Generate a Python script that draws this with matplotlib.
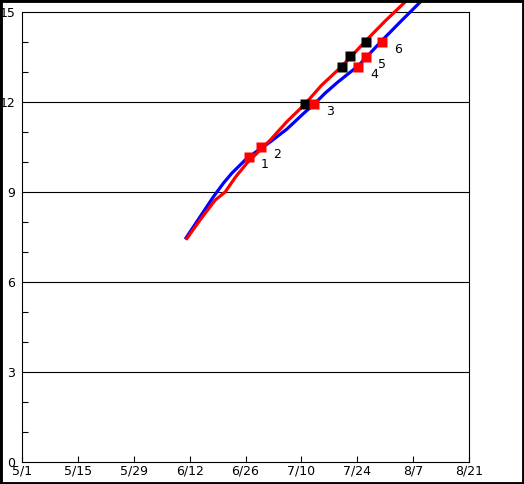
import matplotlib
matplotlib.use('Agg')
import matplotlib.pyplot as plt
from matplotlib.patches import Rectangle

# days counted from 5/1
tick_days = [0, 14, 28, 42, 56, 70, 84, 98, 112]
tick_labels = ['5/1', '5/15', '5/29', '6/12', '6/26', '7/10', '7/24', '8/7', '8/21']

blue_days = [41.1, 44.5, 47.9, 50.5, 52.6, 56.4, 62.2, 66.4, 70.4, 73.2, 76.0, 79.0, 84.2, 86.2, 90.2, 95.0, 100.3]
blue_vals = [7.47, 8.15, 8.83, 9.3, 9.63, 10.13, 10.67, 11.1, 11.6, 11.93, 12.3, 12.65, 13.2, 13.48, 14.05, 14.7, 15.4]

red_days = [41.3, 44.8, 48.4, 50.9, 53.5, 56.4, 62.2, 66.4, 70.9, 75.0, 80.2, 83.2, 86.2, 91.0, 96.5]
red_vals = [7.45, 8.1, 8.73, 9.0, 9.5, 9.97, 10.73, 11.35, 11.93, 12.55, 13.2, 13.62, 14.05, 14.7, 15.4]

red_mark_days = [56.9, 59.9, 73.2, 84.2, 86.2, 90.2]
red_mark_vals = [10.17, 10.5, 11.93, 13.17, 13.5, 14.0]
mark_labels = ['1', '2', '3', '4', '5', '6']

black_mark_days = [70.9, 80.2, 82.2, 86.2]
black_mark_vals = [11.93, 13.17, 13.53, 14.0]

fig = plt.figure(figsize=(5.24, 4.84), dpi=100)
ax = fig.add_axes([22/524, 1 - 462/484, 447/524, 450/484])

ax.set_xlim(0, 112)
ax.set_ylim(0, 15)

for yv in [3, 6, 9, 12]:
    ax.axhline(yv, color='black', lw=0.8, zorder=1)

ax.plot(blue_days, blue_vals, color='#0000ff', lw=2.3, clip_on=False, zorder=3)
ax.plot(red_days, red_vals, color='#ff0000', lw=2.3, clip_on=False, zorder=3)

ax.plot(black_mark_days, black_mark_vals, 's', color='black', ms=7.2, mec='none', zorder=4)
ax.plot(red_mark_days, red_mark_vals, 's', color='#ff0000', ms=7.2, mec='none', zorder=5)
for d, v, t in zip(red_mark_days, red_mark_vals, mark_labels):
    ax.annotate(t, (d, v), xytext=(11.5, -5.2), textcoords='offset points',
                ha='center', va='center', fontsize=9)

ax.set_xticks(tick_days)
ax.set_xticklabels(tick_labels)
ax.set_yticks([0, 3, 6, 9, 12, 15])
ax.set_yticks(range(16), minor=True)
ax.tick_params(axis='both', which='both', direction='in', labelsize=9, width=0.8)
ax.tick_params(axis='x', length=4, pad=2)
ax.tick_params(axis='y', which='major', length=0, pad=5)
ax.tick_params(axis='y', which='minor', length=4)
for s in ax.spines.values():
    s.set_linewidth(0.8)

fig.patches.append(Rectangle((0, 0), 1, 1, transform=fig.transFigure, fill=False,
                             edgecolor='black', lw=3.5, zorder=10))

fig.savefig('out.png', dpi=100)
